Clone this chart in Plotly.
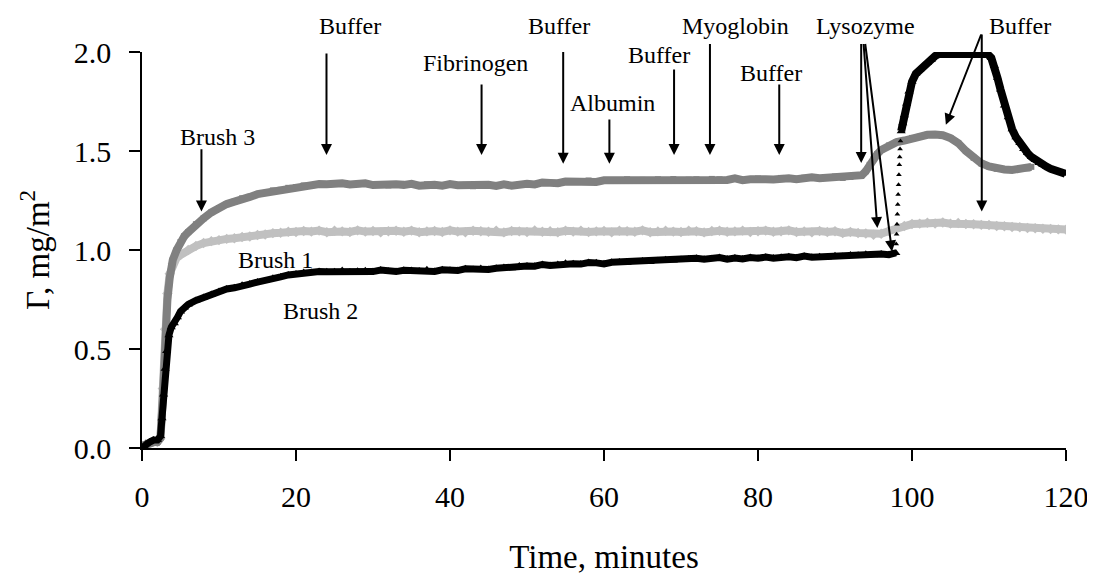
import plotly.graph_objects as go

# ---------------- data ----------------
# Brush 3 (dark grey)
brush3_t = [0, 0.5, 1, 1.5, 2, 2.4, 2.7, 3.0, 3.3, 3.6, 4.0, 4.5, 5, 5.5, 6, 7, 8, 9, 10,
            11, 12, 13, 14, 15, 16, 17, 18, 19, 20, 21, 22, 23, 24, 25,
            26, 27, 28, 29, 30, 31, 32, 33, 34, 35, 36, 37, 38, 39, 40, 41, 42, 43, 44, 45,
            46, 47, 48, 49, 50, 51, 52, 53, 54, 55, 56, 57, 58, 59, 60, 61, 62, 63, 64, 65,
            66, 67, 68, 69, 70, 71, 72, 73, 74, 75, 76, 77, 78, 79, 80, 81, 82, 83, 84, 85,
            86, 87, 88, 89, 90, 91, 92,
            93, 93.5, 94, 94.5, 95, 95.5, 96, 97, 98, 99, 100, 101, 102, 103, 104, 105,
            106, 107, 108, 109, 110, 111, 112, 113, 114, 115, 115.5]
brush3_y = [0.01, 0.02, 0.02, 0.03, 0.03, 0.05, 0.25, 0.55, 0.75, 0.86, 0.95, 1.00, 1.04, 1.07, 1.09,
            1.13, 1.16, 1.19, 1.212,
            1.232, 1.244, 1.261, 1.268, 1.282, 1.288, 1.301, 1.304, 1.314, 1.317, 1.326, 1.327, 1.333,
            1.332, 1.338,
            1.337, 1.331, 1.333, 1.337, 1.328, 1.331, 1.326, 1.332, 1.329, 1.334, 1.325, 1.332, 1.329,
            1.325, 1.333, 1.327, 1.329, 1.322, 1.327, 1.329,
            1.324, 1.332, 1.325, 1.331, 1.334, 1.331, 1.341, 1.339, 1.337, 1.346, 1.345, 1.344, 1.351,
            1.344, 1.352, 1.352, 1.349, 1.357, 1.351, 1.354,
            1.349, 1.357, 1.353, 1.358, 1.352, 1.355, 1.357, 1.351, 1.359, 1.357, 1.354, 1.362, 1.353,
            1.357, 1.361, 1.357, 1.356, 1.364, 1.362, 1.357,
            1.365, 1.367, 1.363, 1.366, 1.371, 1.364, 1.369,
            1.374, 1.378, 1.398, 1.43, 1.46, 1.485, 1.505, 1.528, 1.545, 1.553, 1.566, 1.572, 1.582,
            1.583, 1.580, 1.565,
            1.540, 1.500, 1.466, 1.438, 1.422, 1.410, 1.407, 1.404, 1.410, 1.412, 1.42]

# Brush 1 (light grey)
brush1_t = [0, 0.5, 1, 1.5, 2, 2.4, 2.7, 3.0, 3.3, 3.6, 4.0, 4.5, 5, 6, 7, 8, 9, 10,
            11, 12, 13, 14, 15, 16, 17, 18, 19, 20,
            21, 22, 23, 24, 25, 26, 27, 28, 29, 30, 31, 32, 33, 34, 35, 36, 37, 38, 39, 40,
            41, 42, 43, 44, 45, 46, 47, 48, 49, 50, 51, 52, 53, 54, 55, 56, 57, 58, 59, 60,
            61, 62, 63, 64, 65, 66, 67, 68, 69, 70, 71, 72, 73, 74, 75, 76, 77, 78, 79, 80,
            81, 82, 83, 84, 85, 86, 87, 88, 89, 90, 91, 92, 93,
            94, 95, 96, 97, 98, 99, 100, 101, 102, 103, 104, 105, 106, 107, 108, 109, 110,
            111, 112, 113, 114, 115, 116, 117, 118, 119, 120]
brush1_y = [0.01, 0.02, 0.02, 0.03, 0.03, 0.05, 0.30, 0.60, 0.78, 0.88, 0.93, 0.96, 0.975, 1.00,
            1.02, 1.035, 1.045, 1.05,
            1.056, 1.059, 1.066, 1.068, 1.076, 1.078, 1.085, 1.087, 1.092, 1.091,
            1.096, 1.093, 1.098, 1.090, 1.097, 1.094, 1.091, 1.099, 1.093, 1.096, 1.089, 1.095, 1.097,
            1.092, 1.098, 1.090, 1.094, 1.096, 1.091, 1.099,
            1.093, 1.090, 1.097, 1.095, 1.092, 1.098, 1.089, 1.096, 1.094, 1.091, 1.099, 1.092, 1.095,
            1.090, 1.097, 1.093, 1.098, 1.091, 1.094, 1.096,
            1.089, 1.097, 1.095, 1.092, 1.099, 1.090, 1.094, 1.097, 1.093, 1.091, 1.098, 1.095, 1.089,
            1.096, 1.097, 1.092, 1.094, 1.098, 1.091, 1.095,
            1.098, 1.092, 1.095, 1.099, 1.091, 1.094, 1.089, 1.096, 1.091, 1.095, 1.085, 1.091, 1.086,
            1.083, 1.077, 1.082, 1.096, 1.110, 1.121, 1.131, 1.133, 1.138, 1.134, 1.139, 1.133, 1.136,
            1.131, 1.130, 1.127, 1.126,
            1.121, 1.120, 1.116, 1.115, 1.111, 1.110, 1.107, 1.106, 1.104, 1.103]

# Brush 2 (black) - before lysozyme jump
brush2_t = [0, 0.5, 1, 1.5, 2, 2.4, 2.6, 2.8, 3.0, 3.2, 3.5, 3.8, 4.2, 4.6, 5, 5.5, 6, 7, 8, 9, 10,
            11, 12, 13, 14, 15, 16, 17, 18, 19, 20, 21, 22, 23, 24,
            25, 26, 27, 28, 29, 30, 31, 32, 33, 34, 35, 36, 37, 38, 39, 40, 41, 42, 43, 44, 45,
            46, 47, 48, 49, 50, 51, 52, 53, 54, 55, 56, 57, 58, 59, 60, 61, 62, 63, 64, 65,
            66, 67, 68, 69, 70, 71, 72, 73, 74, 75, 76, 77, 78, 79, 80, 81, 82, 83, 84, 85,
            86, 87, 88, 89, 90, 91, 92, 93, 94, 95, 96, 97, 97.5, 97.9]
brush2_y = [0.0, 0.02, 0.03, 0.04, 0.04, 0.06, 0.15, 0.27, 0.40, 0.49, 0.57, 0.61, 0.63, 0.66, 0.69,
            0.71, 0.725, 0.745, 0.76, 0.775, 0.79,
            0.803, 0.809, 0.822, 0.828, 0.838, 0.844, 0.857, 0.864, 0.874, 0.879, 0.886, 0.886, 0.891,
            0.890,
            0.890, 0.896, 0.889, 0.893, 0.895, 0.891, 0.899, 0.893, 0.891, 0.898, 0.896, 0.894, 0.900,
            0.892, 0.900, 0.898, 0.896, 0.905, 0.902, 0.906, 0.902,
            0.908, 0.912, 0.908, 0.919, 0.919, 0.918, 0.927, 0.922, 0.927, 0.933, 0.930, 0.929, 0.937,
            0.935, 0.930, 0.938, 0.940, 0.936, 0.939, 0.944,
            0.940, 0.946, 0.951, 0.947, 0.952, 0.955, 0.958, 0.953, 0.956, 0.962, 0.954, 0.960, 0.955,
            0.962, 0.958, 0.964, 0.959, 0.963, 0.966, 0.961,
            0.969, 0.964, 0.966, 0.962, 0.971, 0.967, 0.975, 0.974, 0.978, 0.974, 0.980, 0.976, 0.982,
            0.985]
# Brush 2 - sparse points of the fast jump
brush2_jump_t = [97.95, 98.0, 98.05, 98.1, 98.15, 98.2, 98.25, 98.3, 98.35, 98.4, 98.45, 98.5]
brush2_jump_y = [1.03, 1.08, 1.13, 1.18, 1.23, 1.28, 1.33, 1.38, 1.43, 1.47, 1.51, 1.55]
# Brush 2 - after the jump
brush2_after_t = [98.6, 98.8, 99.0, 99.3, 99.6, 100.0, 100.5, 101.0, 101.5, 102.0, 102.5, 103.0, 103.5,
                  104, 105, 106, 107, 108, 109, 109.8, 110.3, 110.7, 111.1, 111.5, 112, 112.5, 113,
                  113.5, 114, 114.5, 115, 115.5, 116, 116.5, 117, 117.5, 118, 118.5, 119, 119.5, 119.9]
brush2_after_y = [1.60, 1.64, 1.68, 1.74, 1.80, 1.85, 1.89, 1.91, 1.93, 1.945, 1.96, 1.98, 1.99,
                  1.990, 1.996, 1.991, 1.996, 1.992, 1.995, 1.99, 1.97, 1.93, 1.87, 1.81, 1.73, 1.67,
                  1.61, 1.57, 1.54, 1.51, 1.49, 1.47, 1.455, 1.44, 1.43, 1.42, 1.41, 1.402, 1.395,
                  1.39, 1.385]

x_ticks = [0, 20, 40, 60, 80, 100, 120]
y_ticks = [0.0, 0.5, 1.0, 1.5, 2.0]

# labels (text, x in minutes, y in mg/m2)
label_text = ["Buffer", "Brush 3", "Brush 1", "Brush 2", "Fibrinogen", "Buffer", "Albumin",
              "Buffer", "Myoglobin", "Buffer", "Lysozyme", "Buffer"]
label_x = [27.0, 9.8, 17.4, 23.2, 43.3, 54.1, 61.1, 67.1, 77.1, 81.7, 93.9, 114.0]
label_y = [2.13, 1.572, 0.951, 0.69, 1.944, 2.129, 1.742, 1.986, 2.129, 1.894, 2.129, 2.129]

# arrows (tail -> tip)
arrow_tail_x = [23.96, 7.72, 44.1, 54.7, 60.7, 69.1, 73.76, 82.76, 93.4, 93.7, 93.9, 109.06, 109.06, 111.2]
arrow_tail_y = [2.0, 1.517, 1.843, 2.008, 1.667, 1.919, 2.048, 1.843, 2.048, 2.048, 2.048, 2.096, 2.096, 2.087]
arrow_tip_x = [23.96, 7.72, 44.1, 54.7, 60.7, 69.1, 73.76, 82.76, 93.4, 95.5, 97.4, 104.4, 109.06, 111.2]
arrow_tip_y = [1.48, 1.195, 1.48, 1.436, 1.436, 1.48, 1.48, 1.48, 1.44, 1.111, 0.993, 1.633, 1.195, 2.003]

Y_MIN, Y_MAX = 0.0, 2.0

FONT = "Liberation Serif, Times New Roman, serif"
C3 = "#808080"
C1 = "#c0c0c0"
C2 = "#000000"

fig = go.Figure()

fig.add_trace(go.Scatter(x=brush1_t, y=brush1_y, mode="lines+markers", name="Brush 1",
                         line=dict(color=C1, width=8),
                         marker=dict(symbol="diamond", size=8, color=C1)))
fig.add_trace(go.Scatter(x=brush3_t, y=brush3_y, mode="lines+markers", name="Brush 3",
                         line=dict(color=C3, width=8),
                         marker=dict(symbol="square", size=6, color=C3)))
fig.add_trace(go.Scatter(x=brush2_t, y=brush2_y, mode="lines+markers", name="Brush 2",
                         line=dict(color=C2, width=7),
                         marker=dict(symbol="triangle-up", size=8, color=C2)))
fig.add_trace(go.Scatter(x=brush2_jump_t, y=brush2_jump_y, mode="markers", name="Brush 2",
                         marker=dict(symbol="triangle-up", size=5, color=C2)))
fig.add_trace(go.Scatter(x=brush2_after_t, y=brush2_after_y, mode="lines+markers", name="Brush 2",
                         line=dict(color=C2, width=8),
                         marker=dict(symbol="triangle-up", size=8, color=C2)))

# text labels: x in data units, y in paper units (so labels above the axis range stay visible)
for t, x, y in zip(label_text, label_x, label_y):
    fig.add_annotation(x=x, y=(y - Y_MIN) / (Y_MAX - Y_MIN), text=t, showarrow=False,
                       xref="x", yref="paper",
                       font=dict(family=FONT, size=24, color="black"),
                       xanchor="center", yanchor="middle")

for tx, ty, hx, hy in zip(arrow_tail_x, arrow_tail_y, arrow_tip_x, arrow_tip_y):
    fig.add_annotation(x=hx, y=hy, ax=tx, ay=ty, xref="x", yref="y", axref="x", ayref="y",
                       text="", showarrow=True, arrowhead=2, arrowsize=1.1, arrowwidth=2,
                       arrowcolor="black", standoff=0, startstandoff=0)

# page body has an 8px margin: figure is sized so the plot lands at the same pixels
fig.update_layout(
    width=1087, height=570,
    margin=dict(l=134, r=29, t=44, b=130),
    paper_bgcolor="white", plot_bgcolor="white",
    showlegend=False,
    font=dict(family=FONT, color="black"),
)
fig.update_xaxes(range=[0, 120], tickvals=x_ticks, ticktext=[str(v) for v in x_ticks],
                 showgrid=False, zeroline=False, showline=True, linecolor="black", linewidth=1.5,
                 ticks="outside", ticklen=11, tickwidth=1.5, tickcolor="black",
                 tickfont=dict(family=FONT, size=30, color="black"), ticklabelstandoff=10,
                 title=dict(text="Time, minutes", font=dict(family=FONT, size=33, color="black"),
                            standoff=33),
                 automargin=False)
fig.update_yaxes(range=[Y_MIN, Y_MAX], tickvals=y_ticks, ticktext=[f"{v:.1f}" for v in y_ticks],
                 showgrid=False, zeroline=False, showline=True, linecolor="black", linewidth=1.5,
                 ticks="outside", ticklen=11, tickwidth=1.5, tickcolor="black",
                 tickfont=dict(family=FONT, size=30, color="black"), ticklabelstandoff=12,
                 title=dict(text="Γ, mg/m<sup>2</sup>", font=dict(family=FONT, size=33, color="black"),
                            standoff=14),
                 automargin=False)

fig.write_html("out.html")
